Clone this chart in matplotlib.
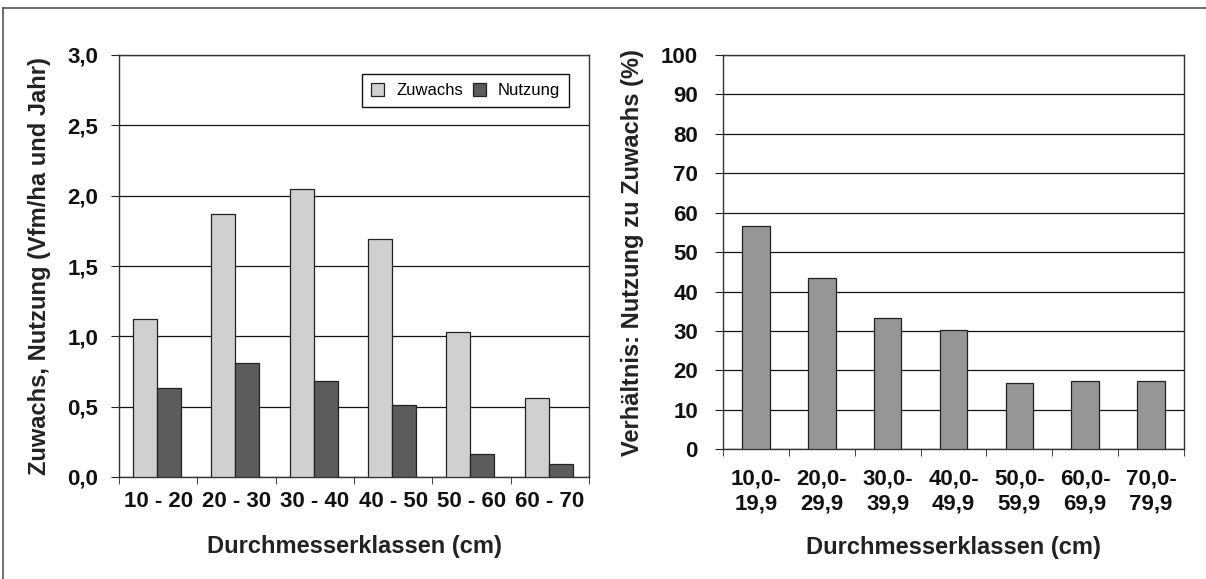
import numpy as np
import matplotlib
matplotlib.use("Agg")
import matplotlib.pyplot as plt
from matplotlib.lines import Line2D

plt.rcParams["font.family"] = ["Liberation Sans", "DejaVu Sans"]

# left chart: increment and use per diameter class
classes_left = ["10 - 20", "20 - 30", "30 - 40", "40 - 50", "50 - 60", "60 - 70"]
zuwachs = [1.12, 1.87, 2.05, 1.69, 1.03, 0.56]
nutzung = [0.63, 0.81, 0.68, 0.51, 0.16, 0.09]
yticks_left = [0.0, 0.5, 1.0, 1.5, 2.0, 2.5, 3.0]
yticklabels_left = ["0,0", "0,5", "1,0", "1,5", "2,0", "2,5", "3,0"]

# right chart: ratio use / increment
classes_right = ["10,0-\n19,9", "20,0-\n29,9", "30,0-\n39,9", "40,0-\n49,9",
                 "50,0-\n59,9", "60,0-\n69,9", "70,0-\n79,9"]
verhaeltnis = [56.7, 43.5, 33.3, 30.3, 16.8, 17.4, 17.4]
yticks_right = list(range(0, 101, 10))

W, H = 1206, 579
fig = plt.figure(figsize=(W / 100, H / 100), dpi=100)

# outer frame (top and left edges visible)
fig.add_artist(Line2D([3 / W, 1.0], [1 - 8 / H, 1 - 8 / H], color="#555555", lw=1.2))
fig.add_artist(Line2D([3 / W, 3 / W], [0.0, 1 - 8 / H], color="#555555", lw=1.2))

edge = "#222222"
tick_fs = 16
label_fs = 17

# ---------------- left panel ----------------
ax1 = fig.add_axes([119 / W, 1 - 477 / H, 470 / W, 422 / H])
x = np.arange(len(classes_left))
bw = 0.305
ax1.bar(x - bw / 2 - 0.015, zuwachs, bw, color="#d0d0d0", edgecolor=edge, lw=0.9,
        label="Zuwachs", zorder=3)
ax1.bar(x + bw / 2 - 0.015, nutzung, bw, color="#5c5c5c", edgecolor=edge, lw=0.9,
        label="Nutzung", zorder=3)
ax1.set_xlim(-0.5, len(classes_left) - 0.5)
ax1.set_ylim(0, 3.0)
ax1.set_yticks(yticks_left)
ax1.set_yticklabels(yticklabels_left, fontsize=tick_fs, fontweight="bold", color="#111111")
ax1.set_xticks(x)
ax1.set_xticklabels(classes_left, fontsize=tick_fs, fontweight="bold", color="#111111")
ax1.set_xticks(np.arange(-0.5, len(classes_left)), minor=True)
ax1.tick_params(axis="x", which="major", length=0, pad=10)
ax1.tick_params(axis="x", which="minor", length=5, direction="out", color=edge)
ax1.tick_params(axis="y", length=6, direction="out", color=edge, pad=9)
ax1.yaxis.grid(True, color="#111111", lw=0.9, zorder=0)
ax1.set_axisbelow(True)
for s in ax1.spines.values():
    s.set_color("#333333")
    s.set_linewidth(1.0)
ax1.set_xlabel("Durchmesserklassen (cm)", fontsize=label_fs, fontweight="bold",
               labelpad=17, color="#222222")
ax1.set_ylabel("Zuwachs, Nutzung (Vfm/ha und Jahr)", fontsize=label_fs,
               fontweight="bold", labelpad=12, color="#222222")
leg = ax1.legend(loc="upper left", bbox_to_anchor=(0.517, 0.955), ncol=2, fontsize=12,
                 frameon=True, fancybox=False, edgecolor="#111111", framealpha=1,
                 handlelength=0.8, handleheight=0.8, columnspacing=0.6,
                 borderpad=0.55, handletextpad=0.7, borderaxespad=0)
leg.get_frame().set_linewidth(1.0)

# ---------------- right panel ----------------
ax2 = fig.add_axes([723 / W, 1 - 449.3 / H, 461 / W, 394.3 / H])
x2 = np.arange(len(classes_right))
ax2.bar(x2, verhaeltnis, 0.42, color="#969696", edgecolor=edge, lw=0.9, zorder=3)
ax2.set_xlim(-0.5, len(classes_right) - 0.5)
ax2.set_ylim(0, 100)
ax2.set_yticks(yticks_right)
ax2.set_yticklabels([str(v) for v in yticks_right], fontsize=tick_fs, fontweight="bold",
                    color="#111111")
ax2.set_xticks(x2)
ax2.set_xticklabels(classes_right, fontsize=tick_fs, fontweight="bold", linespacing=1.25,
                    color="#111111")
ax2.set_xticks(np.arange(-0.5, len(classes_right)), minor=True)
ax2.tick_params(axis="x", which="major", length=0, pad=14)
ax2.tick_params(axis="x", which="minor", length=5, direction="out", color=edge)
ax2.tick_params(axis="y", length=6, direction="out", color=edge, pad=12)
ax2.yaxis.grid(True, color="#111111", lw=0.9, zorder=0)
ax2.set_axisbelow(True)
for s in ax2.spines.values():
    s.set_color("#333333")
    s.set_linewidth(1.0)
ax2.set_xlabel("Durchmesserklassen (cm)", fontsize=label_fs, fontweight="bold",
               labelpad=15, color="#222222")
ax2.set_ylabel("Verhältnis: Nutzung zu Zuwachs (%)", fontsize=label_fs,
               fontweight="bold", labelpad=12, color="#222222")

fig.savefig("out.png", dpi=100)
